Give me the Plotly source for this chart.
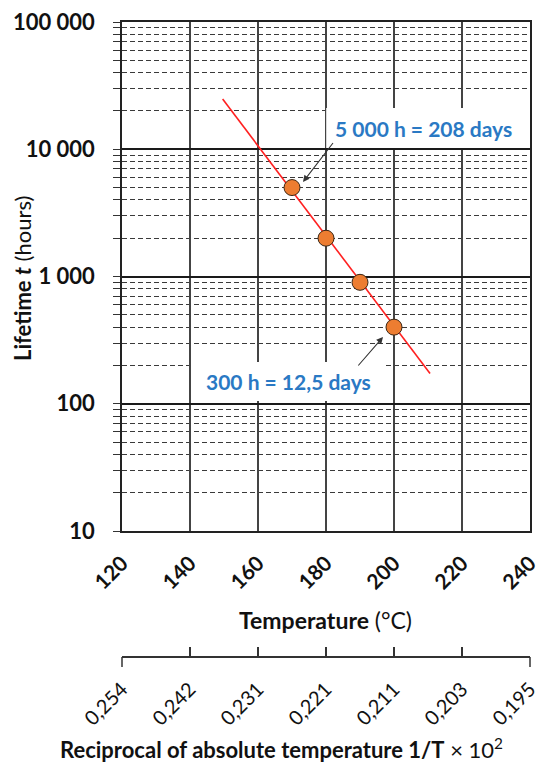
import plotly.graph_objects as go

# Measured lifetimes versus test temperature
temp_c = [170, 180, 190, 200]
lifetime_h = [5000, 2000, 900, 400]

# Fitted Arrhenius line (end points)
fit_temp_c = [149.6, 210.6]
fit_lifetime_h = [24800, 173]

# Axis ticks
temp_ticks = [120, 140, 160, 180, 200, 220, 240]
recip_labels = ["0,254", "0,242", "0,231", "0,221", "0,211", "0,203", "0,195"]
life_ticks = [10, 100, 1000, 10000, 100000]
life_labels = ["10", "100", "1 000", "10 000", "100 000"]
life_minor = [m * 10 ** k for k in range(1, 5) for m in range(2, 10)]

FONT = "Lato"
W, H = 557, 764
ML, MR, MT, MB = 122, 27, 22, 107
PW, PH = W - ML - MR, H - MT - MB


def fx(px):
    return (px - ML) / PW


def fy(py):
    return (H - MB - py) / PH


plot_bottom = 531
ydom0 = fy(plot_bottom)

fig = go.Figure()

fig.add_trace(go.Scatter(
    x=fit_temp_c, y=fit_lifetime_h, mode="lines",
    line=dict(color="#ff2020", width=1.6), showlegend=False, hoverinfo="skip",
))
fig.add_trace(go.Scatter(
    x=temp_c, y=lifetime_h, mode="markers",
    marker=dict(size=16, color="#ED7D31", line=dict(color="#3a2614", width=1)),
    showlegend=False,
))
# reciprocal-temperature scale shares the temperature positions
fig.add_trace(go.Scatter(
    x=temp_c, y=lifetime_h, xaxis="x2", mode="markers",
    marker=dict(opacity=0), showlegend=False, hoverinfo="skip",
))

fig.update_layout(
    width=W, height=H,
    margin=dict(l=ML, r=MR, t=MT, b=MB, autoexpand=False),
    paper_bgcolor="white", plot_bgcolor="white",
    font=dict(family=FONT, color="#111111"),
    xaxis=dict(
        range=[120, 240], tickvals=temp_ticks,
        ticktext=[f"<b>{v}</b>" for v in temp_ticks],
        tickangle=-45, tickfont=dict(size=21, color="#111111"),
        showgrid=True, gridcolor="#444444", gridwidth=1.5,
        showline=True, linecolor="#222222", linewidth=1.5, mirror=True,
        ticks="", ticklabelstandoff=10, zeroline=False,
        anchor="y", domain=[0, 1],
    ),
    xaxis2=dict(
        range=[120, 240], tickvals=temp_ticks, ticktext=recip_labels,
        tickangle=-45, tickfont=dict(size=20, color="#111111"),
        overlaying="x", anchor="free", position=0, side="bottom",
        showgrid=False, showline=True, linecolor="#333333", linewidth=1.5,
        ticks="inside", ticklen=9, tickwidth=1.5, tickcolor="#333333",
        ticklabelstandoff=12, zeroline=False,
    ),
    yaxis=dict(
        type="log", range=[1, 5], domain=[ydom0, 1],
        tickvals=life_ticks,
        ticktext=[f"<b>{t}</b>" for t in life_labels],
        tickfont=dict(size=22, color="#111111"),
        ticks="outside", ticklen=7, tickwidth=1.2, tickcolor="#333333",
        showgrid=True, gridcolor="#1a1a1a", gridwidth=1.6,
        showline=True, linecolor="#222222", linewidth=1.5, mirror=True,
        ticklabelstandoff=14,
        minor=dict(
            tickvals=life_minor, ticks="outside", ticklen=7, tickwidth=1,
            tickcolor="#333333", showgrid=True, gridcolor="#3a3a3a",
            gridwidth=1.1, griddash="5px,3px",
        ),
    ),
)

# white panels behind the callout texts
fig.add_shape(type="rect", xref="paper", yref="paper",
              x0=fx(326.2), x1=fx(528.9), y0=fy(148), y1=fy(108),
              fillcolor="white", line=dict(width=0), layer="above")
fig.add_shape(type="rect", xref="paper", yref="paper",
              x0=fx(193), x1=fx(383), y0=fy(401), y1=fy(362),
              fillcolor="white", line=dict(width=0), layer="above")

# end caps of the reciprocal scale
for xp in (122, 530):
    fig.add_shape(type="line", xref="paper", yref="paper",
                  x0=fx(xp), x1=fx(xp), y0=fy(657), y1=fy(667),
                  line=dict(color="#333333", width=1.5))

BLUE = "#2A79C4"
# callout for the 170 °C point: the text box hangs from the arrow tail
fig.add_annotation(xref="paper", yref="paper", x=fx(303), y=fy(182),
                   axref="pixel", ayref="pixel", ax=30, ay=-39,
                   xanchor="left", yanchor="bottom",
                   text="<b>5 000 h = 208 days</b>",
                   font=dict(size=21, color=BLUE),
                   showarrow=True, arrowhead=2, arrowsize=1.2, arrowwidth=1.1,
                   arrowcolor="#333333")
fig.add_annotation(xref="paper", yref="paper", x=fx(288), y=fy(381),
                   xanchor="center", yanchor="middle",
                   text="<b>300 h = 12,5 days</b>", showarrow=False,
                   font=dict(size=21, color=BLUE))
fig.add_annotation(xref="paper", yref="paper", x=fx(383), y=fy(337),
                   axref="pixel", ayref="pixel", ax=-26, ay=30, text="",
                   showarrow=True, arrowhead=2, arrowsize=1.2, arrowwidth=1.1,
                   arrowcolor="#333333")

# axis titles
fig.add_annotation(xref="paper", yref="paper", x=fx(22), y=fy(279),
                   xanchor="center", yanchor="middle",
                   text="<b>Lifetime <i>t</i></b> (hours)", textangle=-90,
                   showarrow=False, font=dict(size=22, color="#111111"))
fig.add_annotation(xref="paper", yref="paper", x=fx(325), y=fy(620),
                   xanchor="center", yanchor="middle",
                   text="<b>Temperature</b> (°C)",
                   showarrow=False, font=dict(size=23, color="#111111"))
fig.add_annotation(xref="paper", yref="paper", x=fx(281), y=fy(748),
                   xanchor="center", yanchor="middle",
                   text="<b>Reciprocal of absolute temperature 1/T</b> × 10<sup>2</sup>",
                   showarrow=False, font=dict(size=22, color="#111111"))

fig.write_html("out.html")
